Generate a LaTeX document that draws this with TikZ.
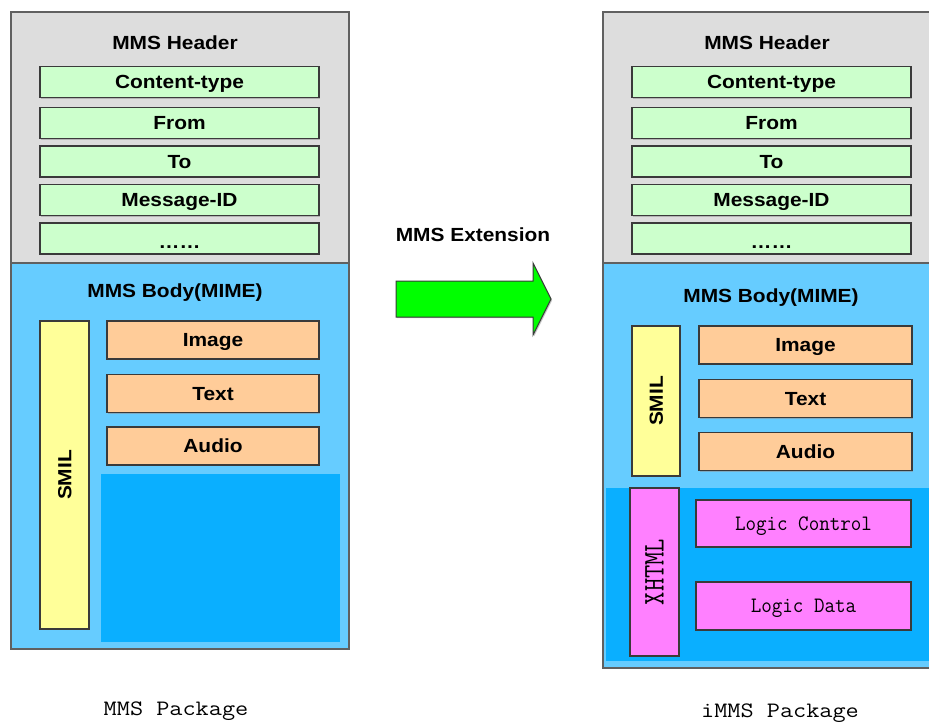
\documentclass[tikz,border=0pt]{standalone}
\usepackage{fontspec}
\setmainfont{Liberation Sans}
\newfontfamily\labelfont{Liberation Sans}[FakeStretch=1.1]
\usetikzlibrary{shadows}

\definecolor{hdrgray}{HTML}{DDDDDD}
\definecolor{fieldgreen}{HTML}{CCFFCC}
\definecolor{bodyblue}{HTML}{66CCFF}
\definecolor{deepblue}{HTML}{0AAFFF}
\definecolor{smilyellow}{HTML}{FFFF99}
\definecolor{mediaorange}{HTML}{FFCC99}
\definecolor{logicpink}{HTML}{FF80FF}
\definecolor{arrowgreen}{HTML}{00FF00}
\definecolor{edgegray}{HTML}{3A3A3A}
\definecolor{panelgray}{HTML}{606060}

\tikzset{
  box/.style={draw=edgegray, line width=1.2pt, inner sep=0pt, outer sep=0pt,
    drop shadow={shadow xshift=1.2pt, shadow yshift=-1.2pt, fill=black!45},
    text height=13.6pt, text depth=0pt,
    font=\fontsize{19}{22}\selectfont\labelfont\bfseries},
  field/.style={box, fill=fieldgreen, minimum width=279pt, minimum height=31pt},
  media/.style={box, fill=mediaorange, minimum height=38pt},
  smilbar/.style={box, fill=smilyellow, rotate=90},
  logicbox/.style={box, fill=logicpink, text height=13.4pt,
    font=\fontsize{22}{24}\selectfont\ttfamily},
  title/.style={font=\fontsize{19}{22}\selectfont\labelfont\bfseries, inner sep=0pt},
  pkglabel/.style={font=\fontsize{22}{24}\selectfont\ttfamily, inner sep=0pt},
  panel/.style={draw=panelgray, line width=1.5pt}
}

\begin{document}
\begin{tikzpicture}[x=1pt, y=-1pt]
\useasboundingbox (0,0) rectangle (929,723);
\clip (0,0) rectangle (929,723);
\fill[white] (0,0) rectangle (929,723);

% ---------- plain MMS package ----------
\fill[hdrgray] (11,12) rectangle (349,263);
\fill[bodyblue] (11,263) rectangle (349,649);
\fill[deepblue] (101,474) rectangle (340,642);
\draw[panel] (11,263) -- (349,263);
\draw[panel] (11,12) rectangle (349,649);

\node[title] (hdrL) at (175,43) {MMS Header};
\node[field] (ctL)  at (179.5,82)    {Content-type};
\node[field] (frL)  at (179.5,123)   {From};
\node[field] (toL)  at (179.5,161.5) {To};
\node[field] (idL)  at (179.5,200)   {Message-ID};
\node[field] (etcL) at (179.5,238.5) {\raisebox{-0.3ex}{\dots\dots}};

\node[title] (bodyL) at (175,293) {MMS Body(MIME)};
\node[smilbar, minimum width=308pt, minimum height=49pt] (smilL) at (64.5,475) {SMIL};
\node[media, minimum width=212pt] (imgL) at (213,340)   {Image};
\node[media, minimum width=212pt] (txtL) at (213,393.5) {Text};
\node[media, minimum width=212pt] (audL) at (213,446)   {Audio};

\node[pkglabel] (pkgL) at (176,711) {\scalebox{1.16}[1]{MMS Package}};

% ---------- extension arrow ----------
\node[title] (extlabel) at (473,235) {MMS Extension};
\filldraw[fill=arrowgreen, draw=edgegray, line width=1pt, line join=miter,
          drop shadow={shadow xshift=1.2pt, shadow yshift=-1.2pt, fill=black!45}]
  (396,281) -- (533,281) -- (533,263) -- (551,299) -- (533,335)
  -- (533,317) -- (396,317) -- cycle;

% ---------- iMMS package ----------
\fill[hdrgray] (603,12) rectangle (945,263);
\fill[bodyblue] (603,263) rectangle (945,668);
\fill[deepblue] (606,488) rectangle (945,661);
\draw[panel] (603,263) -- (945,263);
\draw[panel] (603,12) rectangle (945,668);

\node[title] (hdrR) at (767,43) {MMS Header};
\node[field] (ctR)  at (771.5,82)    {Content-type};
\node[field] (frR)  at (771.5,123)   {From};
\node[field] (toR)  at (771.5,161.5) {To};
\node[field] (idR)  at (771.5,200)   {Message-ID};
\node[field] (etcR) at (771.5,238.5) {\raisebox{-0.3ex}{\dots\dots}};

\node[title] (bodyR) at (771,298) {MMS Body(MIME)};
\node[smilbar, minimum width=150pt, minimum height=48pt] (smilR) at (656,401) {SMIL};
\node[media, minimum width=213pt] (imgR) at (805.5,345)   {Image};
\node[media, minimum width=213pt] (txtR) at (805.5,398.5) {Text};
\node[media, minimum width=213pt] (audR) at (805.5,451.5) {Audio};

\node[box, fill=logicpink, rotate=90, minimum width=168pt, minimum height=49pt,
      text height=18.3pt, font=\fontsize{30}{32}\selectfont\ttfamily] (xhtml)
      at (654.5,572) {\scalebox{0.86}[1]{XHTML}};
\node[logicbox, minimum width=215pt, minimum height=47pt] (lctl) at (803.5,523.5)
      {\scalebox{0.93}[1]{Logic Control}};
\node[logicbox, minimum width=215pt, minimum height=48pt] (ldat) at (803.5,606)
      {\scalebox{0.93}[1]{Logic Data}};

\node[pkglabel] (pkgR) at (780,713) {\scalebox{1.16}[1]{iMMS Package}};
\end{tikzpicture}
\end{document}
